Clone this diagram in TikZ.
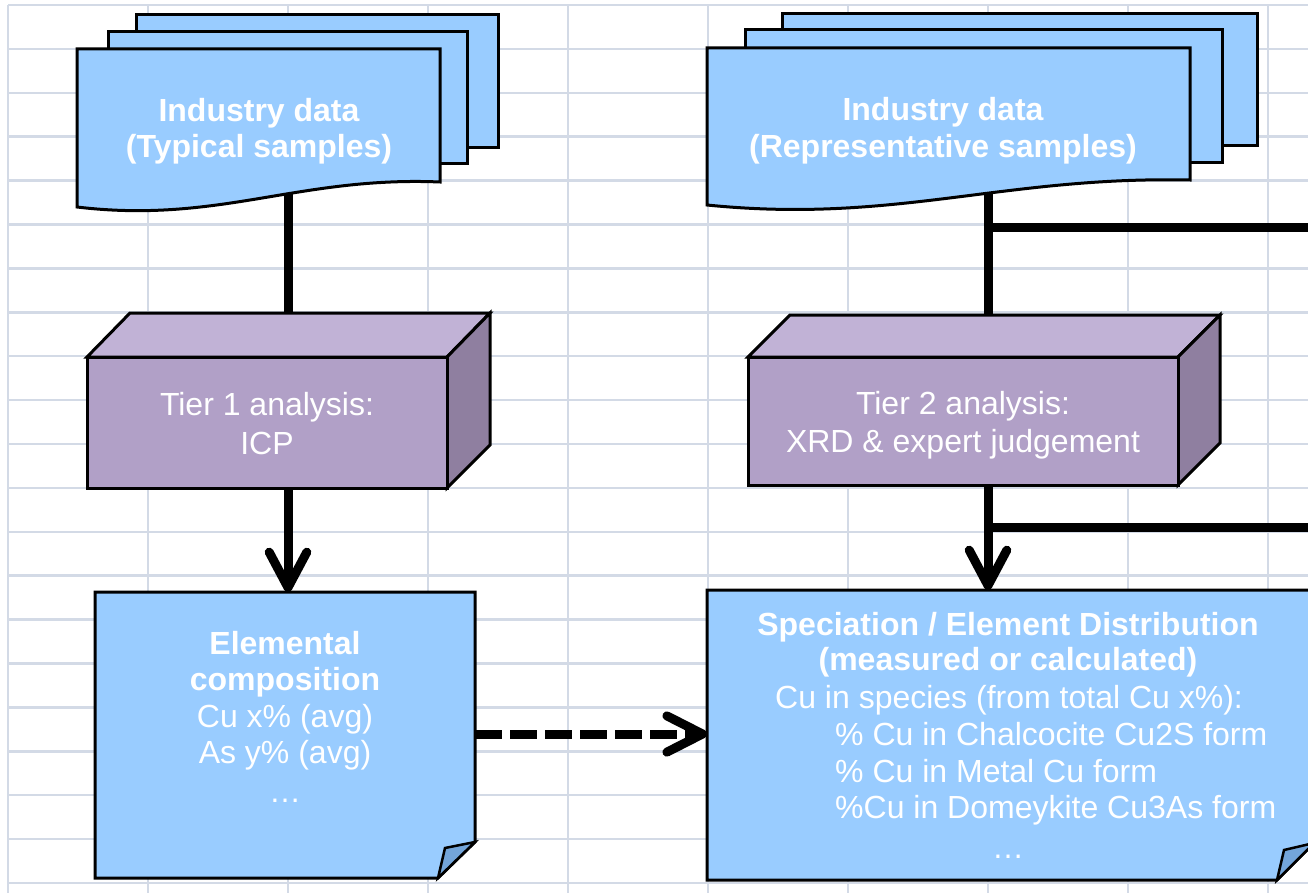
\documentclass[tikz,border=0pt]{standalone}
\usepackage{fontspec}
\setmainfont{Liberation Sans}
\usetikzlibrary{arrows.meta}
\definecolor{docblue}{HTML}{99CCFF}
\definecolor{flapblue}{HTML}{73A5DA}
\definecolor{cubefront}{HTML}{B1A0C7}
\definecolor{cubetop}{HTML}{C1B2D6}
\definecolor{cubeside}{HTML}{8F7FA0}
\definecolor{gridcol}{HTML}{D3DAE6}
\tikzset{
  gridline/.style={draw=gridcol, line width=2.5pt},
  shapeline/.style={draw=black, line width=3pt, line join=miter},
  docshape/.style={shapeline, fill=docblue},
  flapshape/.style={shapeline, fill=flapblue, line width=2.5pt},
  cubeface/.style={shapeline, fill=cubefront},
  cubetopface/.style={shapeline, fill=cubetop},
  cubesideface/.style={shapeline, fill=cubeside},
  conn/.style={draw=black, line width=9pt},
  arrowconn/.style={conn, -{Straight Barb[angle=56:40pt, round]}},
  dashconn/.style={conn, line width=9pt, dash pattern=on 27pt off 8pt, -{Straight Barb[angle=54:40pt, round]}},
  boldtxt/.style={text=white, font=\fontsize{32}{36}\selectfont\bfseries, inner sep=0pt, anchor=base},
  regtxt/.style={text=white, font=\fontsize{32}{36}\selectfont, inner sep=0pt, anchor=base},
  regtxtleft/.style={regtxt, anchor=base west},
}
\begin{document}
\begin{tikzpicture}[x=1pt, y=-1pt]
\useasboundingbox (0,0) rectangle (1308,893);
\clip (0,0) rectangle (1308,893);
\fill[white] (0,0) rectangle (1308,893);
% grid
\foreach \i in {0,...,9} \draw[gridline] (8+140*\i, 5) -- (8+140*\i, 900);
\foreach \j in {0,...,20} \draw[gridline] (8, 5+43.9*\j) -- (1312, 5+43.9*\j);

% named anchor points
\coordinate (d1b) at (288,160);
\coordinate (c1t) at (288,330);
\coordinate (c1b) at (288,487);
\coordinate (n1t) at (288,592);
\coordinate (d2b) at (988,160);
\coordinate (c2t) at (988,330);
\coordinate (c2b) at (988,484);
\coordinate (n2t) at (988,590);
\coordinate (br1) at (988,228);
\coordinate (br1e) at (1320,228);
\coordinate (br2) at (988,527);
\coordinate (br2e) at (1320,527);
\coordinate (n1r) at (475,734);
\coordinate (n2l) at (707,734);

% plain connectors (behind shapes)
\draw[conn] (d1b) -- (c1t);
\draw[conn] (d2b) -- (c2t);
\draw[conn] (br1) -- (br1e);
\draw[conn] (br2) -- (br2e);

% left document stack
\draw[docshape] (136,15) rectangle (498,148);
\draw[docshape] (108,32) rectangle (467,164);
\draw[docshape] (77,49) -- (440,49) -- (440,182) .. controls (298,176) and (219,224) .. (77,207) -- cycle;
\node[boldtxt] (doc1a) at (259,122) {Industry data};
\node[boldtxt] (doc1b) at (259,158) {(Typical samples)};

% right document stack
\draw[docshape] (782,14) rectangle (1257,146);
\draw[docshape] (745,30) rectangle (1222,163);
\draw[docshape] (707,48) -- (1190,48) -- (1190,180) .. controls (1002,176) and (895,224) .. (707,205) -- cycle;
\node[boldtxt] (doc2a) at (943,121) {Industry data};
\node[boldtxt] (doc2b) at (943,158) {(Representative samples)};

% tier 1 cube
\draw[cubetopface] (87,357) -- (130,313) -- (490,313) -- (447,357) -- cycle;
\draw[cubesideface] (447,357) -- (490,313) -- (490,445) -- (447,488) -- cycle;
\draw[cubeface] (87,357) rectangle (447,488);
\node[regtxt] (t1a) at (267,415) {Tier 1 analysis:};
\node[regtxt] (t1b) at (267,454) {ICP};

% tier 2 cube
\draw[cubetopface] (748,357) -- (790,315) -- (1220,315) -- (1178,357) -- cycle;
\draw[cubesideface] (1178,357) -- (1220,315) -- (1220,443) -- (1178,485) -- cycle;
\draw[cubeface] (748,357) rectangle (1178,485);
\node[regtxt] (t2a) at (963,414) {Tier 2 analysis:};
\node[regtxt] (t2b) at (963,452) {XRD \& expert judgement};

% elemental composition note
\draw[docshape] (95,592) -- (475,592) -- (475,842) -- (438,878) -- (95,878) -- cycle;
\draw[flapshape] (438,878) -- (445,848) -- (475,842) -- cycle;
\node[boldtxt] (e1) at (285,654) {Elemental};
\node[boldtxt] (e2) at (285,690) {composition};
\node[regtxt] (e3) at (285,727) {Cu x\% (avg)};
\node[regtxt] (e4) at (285,763) {As y\% (avg)};
\node[regtxt] (e5) at (285,802) {…};

% speciation note
\draw[docshape] (707,590) -- (1314,590) -- (1314,843) -- (1277,880) -- (707,880) -- cycle;
\draw[flapshape] (1277,880) -- (1284,850) -- (1314,843) -- cycle;
\node[boldtxt] (s1) at (1008,635) {Speciation / Element Distribution};
\node[boldtxt] (s2) at (1008,670) {(measured or calculated)};
\node[regtxtleft] (s3) at (775,708) {Cu in species (from total Cu x\%):};
\node[regtxtleft] (s4) at (835,745) {\% Cu in Chalcocite Cu2S form};
\node[regtxtleft] (s5) at (835,782) {\% Cu in Metal Cu form};
\node[regtxtleft] (s6) at (835,818) {\%Cu in Domeykite Cu3As form};
\node[regtxt] (s7) at (1008,858) {…};

% arrows
\draw[arrowconn] (c1b) -- (n1t);
\draw[arrowconn] (c2b) -- (n2t);
\draw[dashconn] (n1r) -- (n2l);
\end{tikzpicture}
\end{document}
